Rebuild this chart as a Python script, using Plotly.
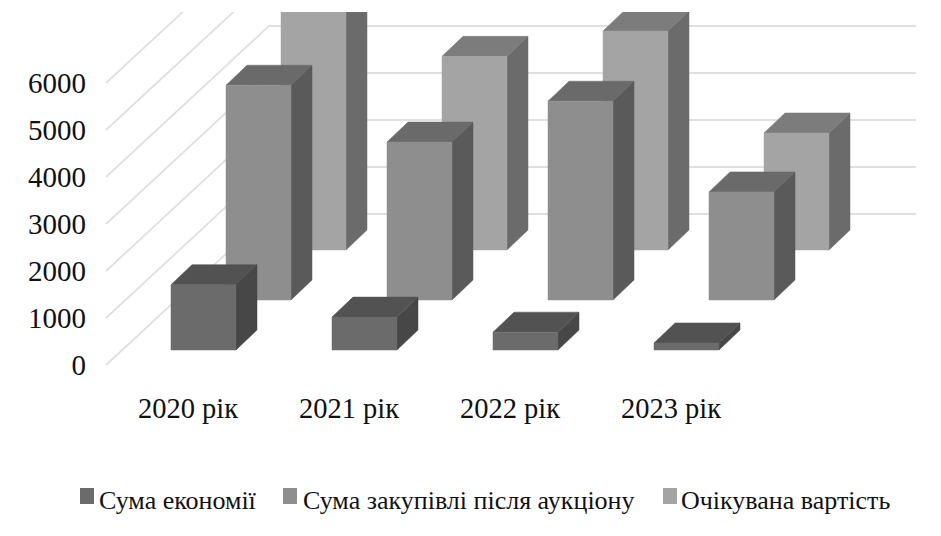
import plotly.graph_objects as go

# Chart data
categories = ["2020 рік", "2021 рік", "2022 рік", "2023 рік"]
savings = [1390, 700, 380, 150]
after_auction = [4570, 3360, 4230, 2300]
expected = [5930, 4120, 4660, 2490]
y_ticks = [0, 1000, 2000, 3000, 4000, 5000, 6000]

WIDTH, HEIGHT = 941, 536
M_L, M_R, M_T, M_B = 100, 0, 12, 151
FONT = "Liberation Serif"
INK = "#111111"

# Oblique projection, expressed in axis units
PX_X = 1 / 161           # x units per screen pixel (one category = 1 unit)
PX_Y = 1000 / 47         # value units per screen pixel
ROW_DX, ROW_DY = 55 * PX_X, 50 * PX_Y      # shift between series rows
SIDE_DX, SIDE_DY = 21 * PX_X, 20 * PX_Y    # visible depth of a bar
BAR_W = 65 * PX_X
BASE_Y = 15 * PX_Y                         # floor height of the front row
WALL_X0 = -65 * PX_X                       # left end of the floor grid
WALL_DX, WALL_DY = 163 * PX_X, 151 * PX_Y  # corner of the back wall
WALL_X1 = 745 * PX_X                       # right end of the back wall
LABEL_SHIFT = 17 * PX_X

x_range = [-71 * PX_X, 770 * PX_X]
y_range = [-20 * PX_Y, 353 * PX_Y]

series = [
    ("Очікувана вартість", expected, 2, ("#a4a4a4", "#7c7c7c", "#6b6b6b")),
    ("Сума закупівлі після аукціону", after_auction, 1, ("#8e8e8e", "#6a6a6a", "#5a5a5a")),
    ("Сума економії", savings, 0, ("#6b6b6b", "#525252", "#474747")),
]

fig = go.Figure()


def face(xs, ys, colour, name):
    fig.add_trace(go.Scatter(
        x=xs, y=ys, mode="lines", fill="toself", fillcolor=colour,
        line=dict(color=colour, width=0.5), hoverinfo="name", name=name,
        showlegend=False,
    ))


# Floor and back wall grid
for v in y_ticks:
    fig.add_trace(go.Scatter(
        x=[WALL_X0, WALL_X0 + WALL_DX, WALL_X1],
        y=[v, v + WALL_DY, v + WALL_DY],
        mode="lines", line=dict(color="#e0e0e0", width=1.8),
        hoverinfo="skip", showlegend=False,
    ))

# Bars, drawn from the back row to the front row
for name, values, row, (front, top, side) in series:
    for i, value in enumerate(values):
        x0 = i + row * ROW_DX
        x1 = x0 + BAR_W
        y0 = BASE_Y + row * ROW_DY
        y1 = y0 + value
        face([x1, x1 + SIDE_DX, x1 + SIDE_DX, x1, x1],
             [y0, y0 + SIDE_DY, y1 + SIDE_DY, y1, y0], side, name)
        face([x0, x1, x1 + SIDE_DX, x0 + SIDE_DX, x0],
             [y1, y1, y1 + SIDE_DY, y1 + SIDE_DY, y1], top, name)
        face([x0, x1, x1, x0, x0], [y0, y0, y1, y1, y0], front, name)

fig.update_layout(
    width=WIDTH, height=HEIGHT, autosize=False,
    margin=dict(l=M_L, r=M_R, t=M_T, b=M_B, pad=0),
    paper_bgcolor="white", plot_bgcolor="white", showlegend=False,
    font=dict(family=FONT, color=INK),
    xaxis=dict(
        range=x_range, showgrid=False, zeroline=False, showline=False,
        tickmode="array", tickvals=[i + LABEL_SHIFT for i in range(len(categories))],
        ticktext=categories, ticks="", tickfont=dict(family=FONT, size=28.5, color=INK),
        ticklabelstandoff=3,
    ),
    yaxis=dict(
        range=y_range, showgrid=False, zeroline=False, showline=False,
        tickmode="array", tickvals=y_ticks, ticks="",
        tickfont=dict(family=FONT, size=29, color=INK), ticklabelstandoff=13,
    ),
)


# Legend row below the plot
def paper_x(px):
    return (px - M_L) / (WIDTH - M_L - M_R)


def paper_y(px):
    return 1 - (px - M_T) / (HEIGHT - M_T - M_B)


legend_row = [
    ("Сума економії", "#6b6b6b", 80, 97),
    ("Сума закупівлі після аукціону", "#8e8e8e", 283, 301),
    ("Очікувана вартість", "#a4a4a4", 663, 679),
]
for label, colour, box_x, text_x in legend_row:
    fig.add_shape(
        type="rect", xref="paper", yref="paper", layer="above",
        x0=paper_x(box_x), x1=paper_x(box_x + 14),
        y0=paper_y(504), y1=paper_y(488),
        fillcolor=colour, line_width=0,
    )
    fig.add_annotation(
        xref="paper", yref="paper", x=paper_x(text_x), y=paper_y(500),
        text=label, showarrow=False, xanchor="left", yanchor="middle",
        font=dict(family=FONT, size=26, color=INK),
    )

fig.write_html("out.html")
